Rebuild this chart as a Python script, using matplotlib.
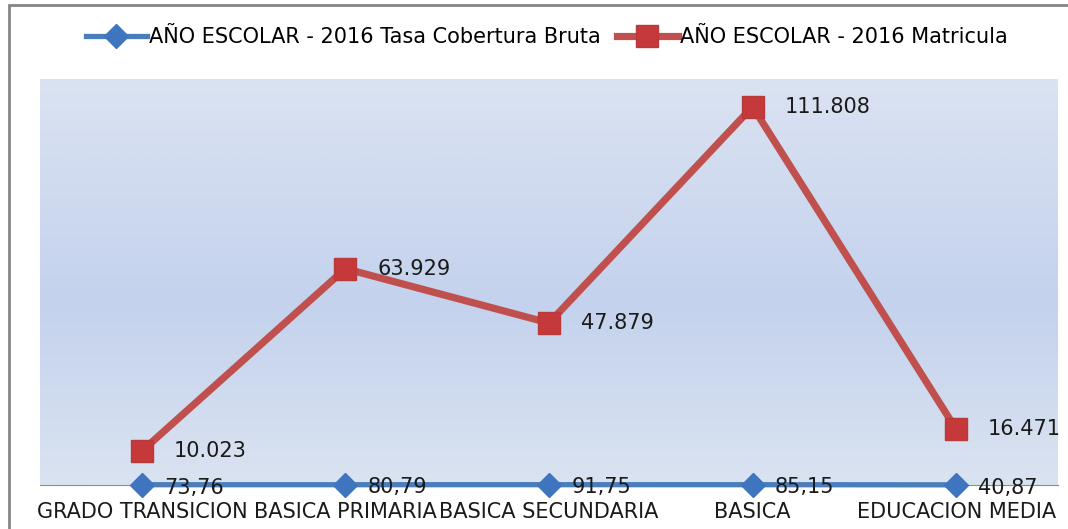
import numpy as np
import matplotlib.pyplot as plt
from matplotlib.colors import LinearSegmentedColormap
from matplotlib.patches import Rectangle

categories = ["GRADO TRANSICION", "BASICA PRIMARIA", "BASICA SECUNDARIA", "BASICA", "EDUCACION MEDIA"]
tasa = [73.76, 80.79, 91.75, 85.15, 40.87]
tasa_labels = ["73,76", "80,79", "91,75", "85,15", "40,87"]
matricula = [10023, 63929, 47879, 111808, 16471]
matricula_labels = ["10.023", "63.929", "47.879", "111.808", "16.471"]

fig = plt.figure(figsize=(10.68, 5.29), dpi=100)
ax = fig.add_axes([0.0375, 0.0832, 0.9531, 0.7675])

# outer frame (only top and left visible in the original)
fig.patches.append(Rectangle((9 / 1068, -0.05), 1.2, 1 - 5 / 529 + 0.05, transform=fig.transFigure,
                             fill=False, edgecolor="#858585", linewidth=2))

# gradient plot area background
cmap = LinearSegmentedColormap.from_list("bg", [(0, "#dae3f1"), (0.45, "#c4d2ed"), (1, "#dbe3f2")])
grad = np.linspace(0, 1, 256).reshape(-1, 1)
ax.imshow(grad, cmap=cmap, aspect="auto", extent=[-0.5, 4.5, 120000, 0], zorder=0)

x = np.arange(len(categories))
ax.plot(x, tasa, color="#4a7ebb", linewidth=3.8, marker="D", markersize=12,
        markerfacecolor="#3f74be", markeredgecolor="#3f74be", clip_on=False, zorder=3,
        label="AÑO ESCOLAR - 2016 Tasa Cobertura Bruta")
ax.plot(x, matricula, color="#c0504d", linewidth=5.2, marker="s", markersize=16,
        markerfacecolor="#c6393a", markeredgecolor="#b8393a", clip_on=False, zorder=4,
        label="AÑO ESCOLAR - 2016 Matricula")

for xi, v, t in zip(x, matricula, matricula_labels):
    ax.annotate(t, (xi, v), xytext=(23, 0), textcoords="offset points", ha="left", va="center",
                fontsize=15, color="#1a1a1a", zorder=5)
for xi, v, t in zip(x, tasa, tasa_labels):
    ax.annotate(t, (xi, v), xytext=(16, -2), textcoords="offset points", ha="left", va="center",
                fontsize=15, color="#1a1a1a", zorder=5, annotation_clip=False)

ax.set_xlim(-0.5, 4.5)
ax.set_ylim(0, 120000)
ax.set_xticks(x)
ax.set_xticklabels(categories, fontsize=15, color="#1a1a1a")
ax.tick_params(axis="x", length=0, pad=12)
ax.set_yticks([])
for s in ["left", "right", "top"]:
    ax.spines[s].set_visible(False)
ax.spines["bottom"].set_color("#8c8c8c")
ax.spines["bottom"].set_linewidth(0.8)

fig.legend(loc="center", bbox_to_anchor=(0.512, 0.93), ncol=2, frameon=False,
           prop={"size": 15}, handlelength=2.9, handletextpad=0.1, columnspacing=0.8)

fig.savefig("out.png", dpi=100)
